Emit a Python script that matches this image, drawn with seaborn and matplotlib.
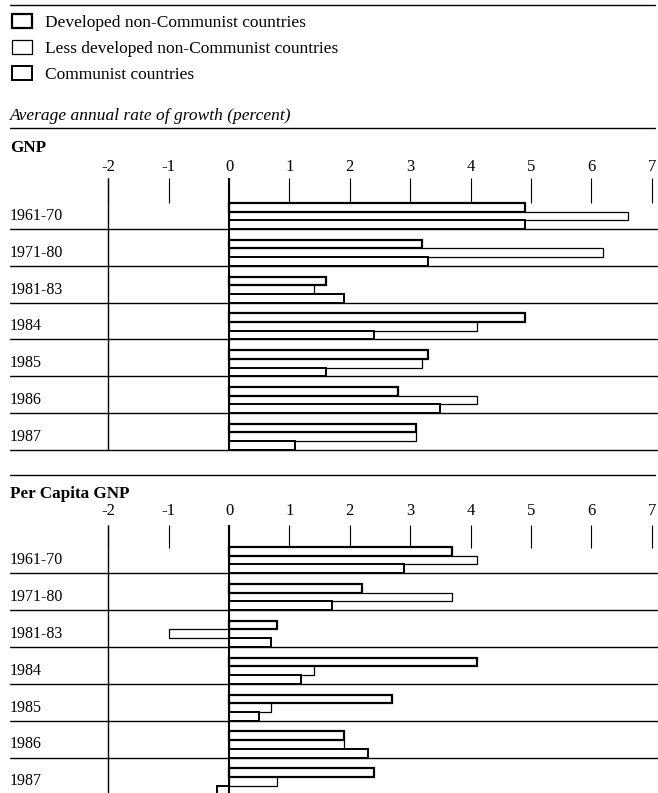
import matplotlib
matplotlib.use('Agg')
import matplotlib.pyplot as plt
import seaborn as sns
import pandas as pd
import numpy as np
from matplotlib.lines import Line2D
from matplotlib.transforms import blended_transform_factory

# ---------------- data ----------------
periods = ['1961-70', '1971-80', '1981-83', '1984', '1985', '1986', '1987']
groups = ['Developed non-Communist countries',
          'Less developed non-Communist countries',
          'Communist countries']

gnp_developed = [4.9, 3.2, 1.6, 4.9, 3.3, 2.8, 3.1]
gnp_less_developed = [6.6, 6.2, 1.4, 4.1, 3.2, 4.1, 3.1]
gnp_communist = [4.9, 3.3, 1.9, 2.4, 1.6, 3.5, 1.1]

pc_developed = [3.7, 2.2, 0.8, 4.1, 2.7, 1.9, 2.4]
pc_less_developed = [4.1, 3.7, -1.0, 1.4, 0.7, 1.9, 0.8]
pc_communist = [2.9, 1.7, 0.7, 1.2, 0.5, 2.3, -0.2]

x_ticks = [-2, -1, 0, 1, 2, 3, 4, 5, 6, 7]
x_tick_labels = ['-2', '-1', '0', '1', '2', '3', '4', '5', '6', '7']

title_text = 'Average annual rate of growth (percent)'
panel_titles = ['GNP', 'Per Capita GNP']

# ---------------- layout ----------------
W, H = 658, 793
sns.set_theme(style='white')
plt.rcParams['font.family'] = ['Liberation Serif', 'DejaVu Serif']
plt.rcParams['axes.unicode_minus'] = False
plt.rcParams['text.color'] = 'black'
plt.rcParams['xtick.color'] = 'black'
plt.rcParams['xtick.labelcolor'] = 'black'
plt.rcParams['legend.labelcolor'] = 'black'

fig = plt.figure(figsize=(W / 100, H / 100), dpi=100)
fig.patch.set_facecolor('white')

ZERO_PX, UNIT_PX = 229.0, 60.4
LEFT_PX, RIGHT_PX = 10, 658
BAR_WIDTH = 0.71
EDGE_WIDTHS = [1.6, 0.9, 1.4]


def fx(px):
    return px / W


def fy(py):
    return 1 - py / H


def panel(top_px, bottom_px, center0_px, row_px, dev, ldc, com, tick_len, pad):
    ax = fig.add_axes([fx(LEFT_PX), fy(bottom_px),
                       (RIGHT_PX - LEFT_PX) / W, (bottom_px - top_px) / H])
    ax.patch.set_visible(False)
    df = pd.DataFrame({
        'period': periods * 3,
        'group': np.repeat(groups, len(periods)),
        'value': list(dev) + list(ldc) + list(com),
    })
    sns.barplot(data=df, x='value', y='period', hue='group', order=periods,
                hue_order=groups, palette=['white'] * 3, edgecolor='black',
                width=BAR_WIDTH, orient='h', legend=False, errorbar=None, ax=ax)
    for cont, lw in zip(ax.containers, EDGE_WIDTHS):
        for p in cont:
            p.set_linewidth(lw)
            p.set_edgecolor('black')
            p.set_facecolor('white')
            p.set_zorder(3)

    ax.set_xlim((LEFT_PX - ZERO_PX) / UNIT_PX, (RIGHT_PX - ZERO_PX) / UNIT_PX)
    y_top = (top_px - center0_px) / row_px
    y_bot = (bottom_px - center0_px) / row_px
    ax.set_ylim(y_bot, y_top)

    # row separators
    for i in range(len(periods)):
        ax.axhline(i + BAR_WIDTH / 2, color='black', lw=1.0, zorder=2)
    last = len(periods) - 1 + BAR_WIDTH / 2
    ax.vlines(-2, y_top, min(last, y_bot), color='black', lw=1.0, zorder=2)
    ax.vlines(0, y_top, min(last, y_bot), color='black', lw=1.5, zorder=4)

    # row labels
    tr = blended_transform_factory(ax.transAxes, ax.transData)
    for i, p in enumerate(periods):
        ax.text(0, i, p, transform=tr, ha='left', va='center', fontsize=11.5,
                color='black')

    ax.xaxis.tick_top()
    ax.set_xticks(x_ticks)
    ax.set_xticklabels(x_tick_labels)
    ax.tick_params(axis='x', direction='in', length=tick_len, width=0.8,
                   pad=pad, labelsize=12, top=True, bottom=False,
                   colors='black')
    ax.tick_params(axis='y', left=False, labelleft=False)
    ax.set_xlabel('')
    ax.set_ylabel('')
    for s in ax.spines.values():
        s.set_visible(False)
    return ax


ax1 = panel(178, 452, 216, 36.8, gnp_developed, gnp_less_developed,
            gnp_communist, tick_len=18, pad=2)
ax2 = panel(525, 800, 560, 36.9, pc_developed, pc_less_developed,
            pc_communist, tick_len=16.5, pad=4.5)

# ---------------- legend ----------------
handles = [ax1.containers[k][0] for k in range(3)]
fig.legend(handles=handles, labels=groups, loc='upper left',
           bbox_to_anchor=(fx(12), fy(14)), frameon=False, fontsize=12.5,
           handlelength=1.15, handleheight=0.9, handletextpad=0.75,
           labelspacing=0.5, borderpad=0, borderaxespad=0)

# ---------------- texts & rules ----------------
fig.text(fx(10), fy(116), title_text, style='italic', fontsize=12.5,
         va='center', ha='left')
fig.text(fx(10), fy(148), panel_titles[0], weight='bold', fontsize=12.3,
         va='center', ha='left')
fig.text(fx(10), fy(494), panel_titles[1], weight='bold', fontsize=12.3,
         va='center', ha='left')

for ypx in [5, 128, 475]:
    fig.add_artist(Line2D([fx(10), fx(655)], [fy(ypx), fy(ypx)],
                          color='black', lw=1.0))

fig.savefig('out.png', dpi=100)
